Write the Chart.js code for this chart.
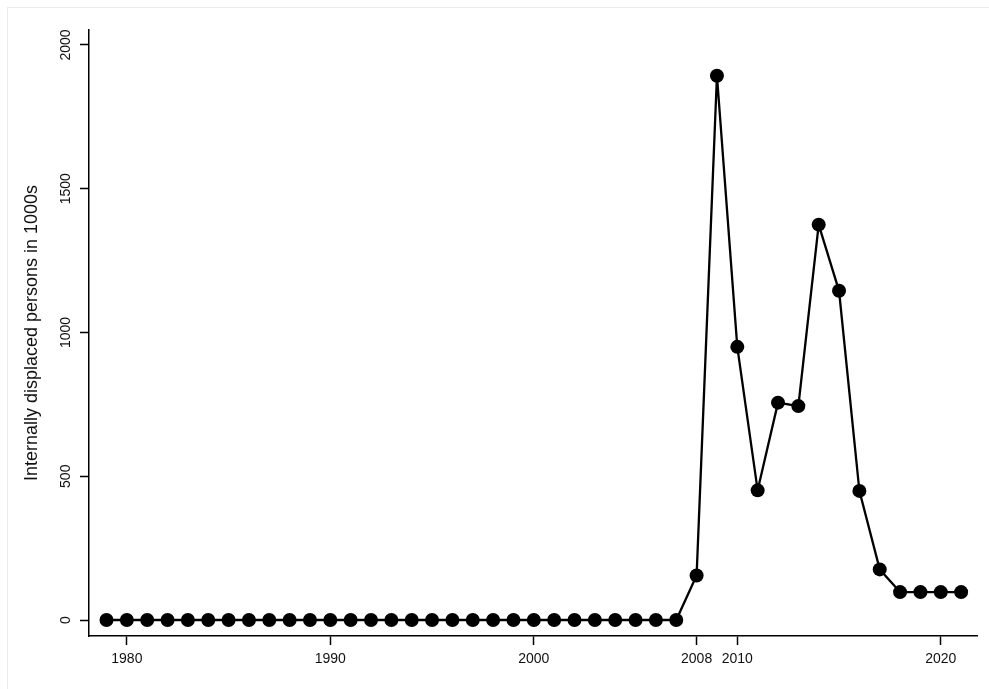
<!DOCTYPE html>
<html>
<head>
<meta charset="utf-8">
<script src="https://cdn.jsdelivr.net/npm/chart.js@4"></script>
<style>
  html, body { margin: 0; padding: 0; background: #fff; overflow: hidden; }
  #wrap { position: relative; width: 989px; height: 689px; overflow: hidden; }
  #frame { position: absolute; left: 7px; top: 7px; width: 1000px; height: 700px;
           border-top: 1px solid #ebebeb; border-left: 1px solid #ebebeb; }
  canvas { position: absolute; left: 0; top: 0; }
</style>
</head>
<body>
<div id="wrap">
  <div id="frame"></div>
  <canvas id="c" width="989" height="689"></canvas>
</div>
<script>
const years = [1979,1980,1981,1982,1983,1984,1985,1986,1987,1988,1989,1990,1991,1992,1993,1994,1995,1996,1997,1998,1999,2000,2001,2002,2003,2004,2005,2006,2007,2008,2009,2010,2011,2012,2013,2014,2015,2016,2017,2018,2019,2020,2021];
const displaced = [0,0,0,0,0,0,0,0,0,0,0,0,0,0,0,0,0,0,0,0,0,0,0,0,0,0,0,0,0,155,1893,950,451,756,744,1375,1145,449,176,97,97,97,97];
const xTickLabels = [1980, 1990, 2000, 2008, 2010, 2020];
const yTickLabels = [0, 500, 1000, 1500, 2000];
const yTitle = 'Internally displaced persons in 1000s';

const points = years.map((y, i) => ({ x: y, y: displaced[i] }));
const FONT = '"Liberation Sans", Arial, sans-serif';
const TXT = '#111';

new Chart(document.getElementById('c'), {
  type: 'line',
  data: {
    datasets: [{
      data: points,
      borderColor: '#000',
      backgroundColor: '#000',
      borderWidth: 2.3,
      tension: 0,
      pointRadius: 7,
      pointHoverRadius: 7,
      pointBackgroundColor: '#000',
      pointBorderColor: '#000',
      pointBorderWidth: 0
    }]
  },
  options: {
    responsive: false,
    animation: false,
    events: [],
    layout: { padding: { left: 0, top: 30, right: 12, bottom: 0 } },
    plugins: { legend: { display: false }, tooltip: { enabled: false } },
    scales: {
      x: {
        type: 'linear',
        min: 1978.14,
        max: 2021.78,
        afterBuildTicks: s => { s.ticks = xTickLabels.map(v => ({ value: v })); },
        afterFit: s => { s.height = 53; },
        grid: { drawOnChartArea: false, drawTicks: true, tickLength: 9, tickColor: '#000', tickWidth: 1.5 },
        border: { display: true, color: '#000', width: 1.5 },
        ticks: { color: TXT, font: { family: FONT, size: 14 }, padding: 6, maxRotation: 0, autoSkip: false,
                 callback: v => String(v) }
      },
      y: {
        type: 'linear',
        min: -55.6,
        max: 2052,
        afterBuildTicks: s => { s.ticks = yTickLabels.map(v => ({ value: v })); },
        afterFit: s => { s.width = 89; },
        grid: { drawOnChartArea: false, drawTicks: true, tickLength: 9, tickColor: '#000', tickWidth: 1.5 },
        border: { display: true, color: '#000', width: 1.5 },
        ticks: { color: TXT, font: { family: FONT, size: 14 }, padding: -2, minRotation: 90, maxRotation: 90,
                 crossAlign: 'center', autoSkip: false, callback: v => String(v) },
        title: { display: true, text: yTitle, color: TXT, font: { family: FONT, size: 18 }, padding: { top: 21, bottom: 0 } }
      }
    }
  }
});
</script>
</body>
</html>
